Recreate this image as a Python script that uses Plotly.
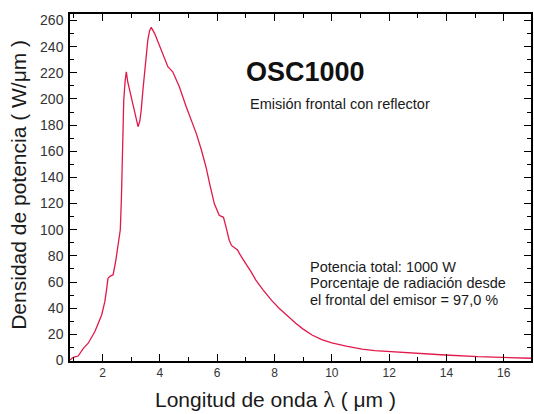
import plotly.graph_objects as go

wavelength_um = [0.87, 0.98, 1.15, 1.33, 1.5, 1.73, 1.97, 2.08, 2.14, 2.19, 2.27, 2.37, 2.46, 2.54,
                 2.62, 2.66, 2.70, 2.74, 2.79, 2.83, 2.88, 3.0, 3.12, 3.24, 3.30, 3.35, 3.41, 3.47,
                 3.53, 3.58, 3.64, 3.70, 3.82, 3.99, 4.16, 4.28, 4.45, 4.68, 4.92, 5.10, 5.27, 5.45,
                 5.61, 5.75, 5.90, 6.07, 6.15, 6.22, 6.31, 6.42, 6.50, 6.60, 6.71, 6.80, 6.88, 7.03,
                 7.18, 7.35, 7.6, 7.9, 8.16, 8.45, 8.74, 9.0, 9.31, 9.65, 10.0, 10.5, 11.05, 11.5,
                 12.09, 13.0, 13.95, 15.1, 16.0, 16.95]
power_density = [0.4, 2.4, 3.4, 9.3, 13.2, 22, 34.8, 45, 54, 62.8, 64.5, 65.6, 76, 87,
                 100, 125, 160, 199, 214, 220.8, 213, 201.7, 189, 178.8, 183, 191.5, 207, 222,
                 236, 245, 252, 254.8, 250, 241, 232, 224.7, 220.8, 209.4, 194, 184, 173.7, 161,
                 148, 134, 120, 111, 110.2, 109.5, 102, 92, 88, 86, 84.5, 81, 78, 73,
                 68, 61.5, 54, 46, 40, 34, 28.4, 24, 19.5, 16, 13.5, 11, 8.6, 7.6,
                 6.7, 5.3, 4.2, 2.9, 2.3, 1.7]

x_ticks = [2, 4, 6, 8, 10, 12, 14, 16]
y_ticks = list(range(0, 261, 20))

FONT = "Arial, Liberation Sans, sans-serif"
TXT = "#1a1a1a"

fig = go.Figure()
fig.add_trace(go.Scatter(x=wavelength_um, y=power_density, mode="lines",
                         line=dict(color="#e0194b", width=1.3), showlegend=False,
                         hoverinfo="x+y"))

axis_common = dict(showline=True, linecolor="black", linewidth=1.5, mirror="ticks",
                   ticks="inside", ticklen=7, tickwidth=1.2, tickcolor="black",
                   showgrid=False, zeroline=False)

fig.update_xaxes(range=[0.865, 16.95], tickmode="array", tickvals=x_ticks,
                 ticktext=[str(v) for v in x_ticks],
                 tickfont=dict(family=FONT, size=12, color="#333"),
                 minor=dict(ticks="inside", ticklen=4, tickwidth=1.2, tickcolor="black", dtick=1, tick0=0),
                 **axis_common)
fig.update_yaxes(range=[-0.4, 265.0], tickmode="array", tickvals=y_ticks,
                 ticktext=[str(v) for v in y_ticks],
                 tickfont=dict(family=FONT, size=14, color="#333"),
                 ticklabelstandoff=2,
                 minor=dict(ticks="inside", ticklen=4, tickwidth=1.2, tickcolor="black", dtick=10, tick0=0),
                 **axis_common)

annotations = [
    dict(text="<b>OSC1000</b>", x=0.511, y=0.833, font=dict(family=FONT, size=27, color="#111")),
    dict(text="Emisión frontal con reflector", x=0.585, y=0.7406, font=dict(family=FONT, size=14.5, color=TXT)),
    dict(text="Potencia total: 1000 W", x=0.5168, y=0.2718, xanchor="left", font=dict(family=FONT, size=14.5, color=TXT)),
    dict(text="Porcentaje de radiación desde", x=0.5168, y=0.2239, xanchor="left", font=dict(family=FONT, size=14.5, color=TXT)),
    dict(text="el frontal del emisor = 97,0 %", x=0.5168, y=0.1758, xanchor="left", font=dict(family=FONT, size=14.5, color=TXT)),
    dict(text="Densidad de potencia ( W/μm )", x=-0.1134, y=0.507, textangle=-90,
         font=dict(family=FONT, size=21, color=TXT)),
    dict(text="Longitud de onda <span style='font-family:Liberation Serif, serif;font-size:24px'>λ</span> ( μm )",
         x=0.4464, y=-0.1095, font=dict(family=FONT, size=21, color=TXT)),
]
for a in annotations:
    a.setdefault("xanchor", "center")
    fig.add_annotation(xref="paper", yref="paper", showarrow=False, yanchor="middle", **a)

fig.update_layout(width=534, height=414, margin=dict(l=70, r=1, t=14, b=53),
                  paper_bgcolor="white", plot_bgcolor="white")

fig.write_html("out.html", config={"displayModeBar": False},
               post_script="document.body.style.margin='0';document.body.style.overflow='hidden';")
